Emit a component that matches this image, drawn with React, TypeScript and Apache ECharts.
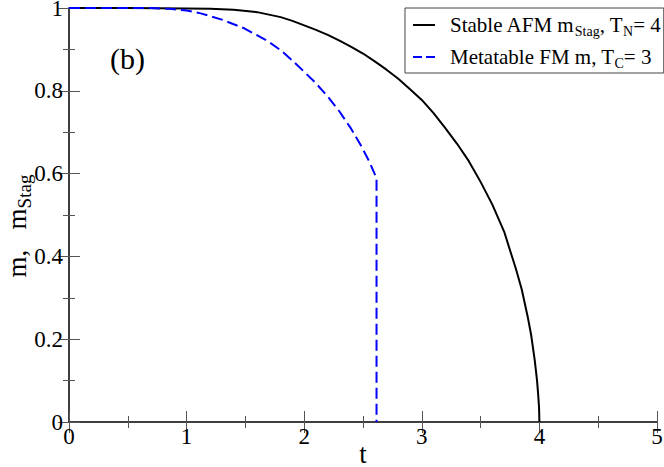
import React, { useEffect, useRef } from 'react';
import * as echarts from 'echarts';

// Stable AFM staggered magnetization (T_N = 4)
const afmT = [0, 0.5, 1.0, 1.2, 1.4, 1.6, 1.8, 1.9, 2.0, 2.1, 2.2, 2.3, 2.4, 2.5, 2.6, 2.7, 2.8, 2.9, 3.0, 3.1, 3.2, 3.3, 3.4, 3.5, 3.6, 3.7, 3.75, 3.8, 3.85, 3.9, 3.93, 3.96, 3.98, 3.99, 3.997, 4.0];
const afmM = [1, 1, 0.999, 0.998, 0.996, 0.99, 0.978, 0.969, 0.958, 0.947, 0.935, 0.921, 0.906, 0.89, 0.871, 0.851, 0.829, 0.804, 0.778, 0.746, 0.71, 0.672, 0.63, 0.58, 0.525, 0.46, 0.415, 0.37, 0.32, 0.255, 0.21, 0.15, 0.1, 0.065, 0.035, 0];

// Metastable FM magnetization (T_C = 3)
const fmT = [0, 0.5, 0.7, 0.85, 1.0, 1.12, 1.3, 1.49, 1.69, 1.8, 1.9, 2.0, 2.1, 2.2, 2.3, 2.4, 2.48, 2.55, 2.615, 2.615];
const fmM = [1, 1, 1, 0.998, 0.994, 0.987, 0.972, 0.951, 0.92, 0.898, 0.873, 0.846, 0.818, 0.786, 0.75, 0.708, 0.669, 0.631, 0.589, 0];

const seriesNames = ['Stable AFM mStag, TN= 4', 'Metatable FM m, TC= 3'];
const legendRich = [
  '{sp|}{a|Stable AFM m}{s|Stag}{a|, T}{s|N}{a|= 4}',
  '{sp|}{a|Metatable FM m, T}{s|C}{a|= 3}',
];
const xAxisTitle = 't';
const yAxisTitle = '{a|m,   m}{s|Stag}';
const panelLabel = '(b)';

const FONT = 'Liberation Serif';

export default function App() {
  const ref = useRef<HTMLDivElement>(null);
  useEffect(() => {
    const chart = echarts.init(ref.current!, null, { renderer: 'svg' });
    const axisLine = { show: true, lineStyle: { color: '#333', width: 1.5 } };
    const axisTick = { show: true, inside: true, length: 11, lineStyle: { color: '#555', width: 1 } };
    const minorTick = { show: true, splitNumber: 2, length: 6, lineStyle: { color: '#555', width: 1 } };
    const labelStyle = { fontFamily: FONT, fontSize: 23, color: '#000', lineHeight: 16 };
    const legendRichStyles = {
      a: { fontFamily: FONT, fontSize: 21, color: '#000', lineHeight: 26 },
      s: { fontFamily: FONT, fontSize: 14, color: '#000', lineHeight: 26, padding: [12, 0, 0, 0] },
      sp: { width: 10 },
    };
    const titleRichStyles = {
      a: { fontFamily: FONT, fontSize: 27, fill: '#000', lineHeight: 32 },
      s: { fontFamily: FONT, fontSize: 19, fill: '#000', lineHeight: 32, padding: [14, 0, 0, 0] },
    };
    const option: any = {
      animation: false,
      backgroundColor: '#fff',
      grid: { left: 69, right: 7, top: 8, bottom: 45, containLabel: false, outerBoundsMode: 'none' },
      xAxis: [
        {
          type: 'value', min: 0, max: 5, interval: 1, position: 'bottom',
          axisLine, axisTick, minorTick,
          splitLine: { show: false },
          axisLabel: { ...labelStyle, margin: 6 },
        },
        {
          type: 'value', min: 0, max: 5, interval: 1, position: 'top',
          axisLine, axisTick, minorTick,
          splitLine: { show: false }, axisLabel: { show: false },
        },
      ],
      yAxis: [
        {
          type: 'value', min: 0, max: 1, interval: 0.2, position: 'left',
          axisLine, axisTick, minorTick,
          splitLine: { show: false },
          axisLabel: { ...labelStyle, margin: 6 },
        },
        {
          type: 'value', min: 0, max: 1, interval: 0.2, position: 'right',
          axisLine, axisTick, minorTick,
          splitLine: { show: false }, axisLabel: { show: false },
        },
      ],
      legend: {
        orient: 'vertical', left: 405, top: 8,
        itemWidth: 22, itemHeight: 2, itemGap: 6,
        padding: [4, 3, 3, 8],
        borderColor: '#444', borderWidth: 1, borderRadius: 0,
        backgroundColor: '#fff',
        data: [
          { name: seriesNames[0], icon: 'path://M0,0H22V2H0Z' },
          { name: seriesNames[1], icon: 'path://M0,0H9V2H0Z M13,0H22V2H13Z' },
        ],
        formatter: (name: string) => legendRich[seriesNames.indexOf(name)],
        textStyle: { fontFamily: FONT, fontSize: 21, color: '#000', rich: legendRichStyles },
      },
      graphic: [
        {
          type: 'text', left: 110, top: 43,
          style: { text: panelLabel, fontFamily: FONT, fontSize: 30, fill: '#000' },
        },
        {
          type: 'text', x: 363, y: 454,
          style: { text: xAxisTitle, fontFamily: FONT, fontSize: 27, lineHeight: 20, fill: '#000', align: 'center', verticalAlign: 'middle' },
        },
        {
          type: 'text', x: 17, y: 226, rotation: Math.PI / 2,
          style: {
            text: yAxisTitle, fontFamily: FONT, fontSize: 27, fill: '#000',
            align: 'center', verticalAlign: 'middle', rich: titleRichStyles,
          },
        },
      ],
      series: [
        {
          name: seriesNames[0], type: 'line', xAxisIndex: 0, yAxisIndex: 0,
          data: afmT.map((t, i) => [t, afmM[i]]),
          showSymbol: false, symbol: 'none',
          lineStyle: { color: '#000', width: 2 },
          itemStyle: { color: '#000' },
          z: 3,
        },
        {
          name: seriesNames[1], type: 'line', xAxisIndex: 0, yAxisIndex: 0,
          data: fmT.map((t, i) => [t, fmM[i]]),
          showSymbol: false, symbol: 'none',
          lineStyle: { color: '#0000ff', width: 2, type: [11, 5] },
          itemStyle: { color: '#0000ff' },
          z: 3,
        },
      ],
    };
    chart.setOption(option);
    return () => chart.dispose();
  }, []);
  return (
    <div
      ref={ref}
      style={{ position: 'absolute', left: 0, top: 0, width: 664, height: 467 }}
    />
  );
}
